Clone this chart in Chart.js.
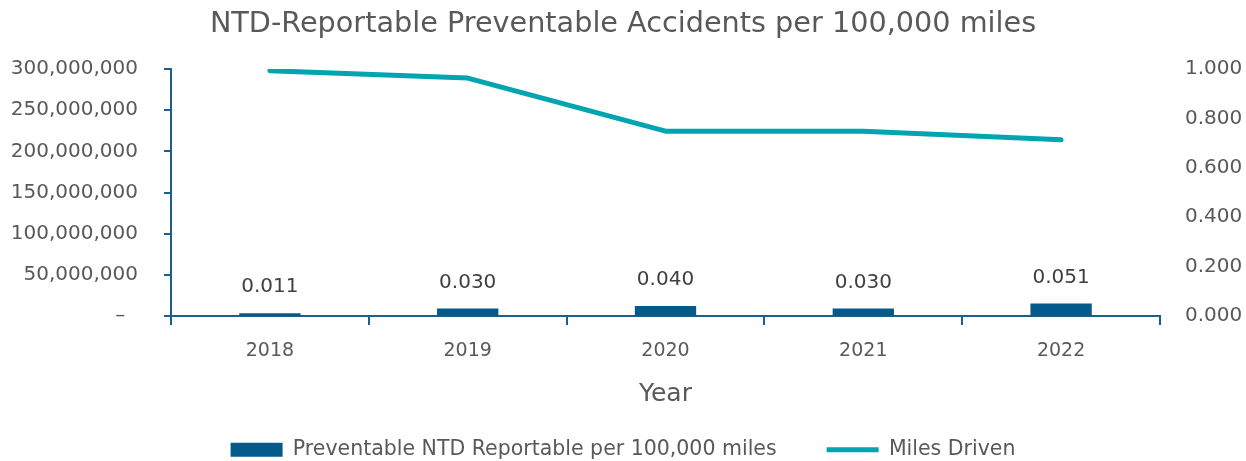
<!DOCTYPE html>
<html>
<head>
<meta charset="utf-8">
<script src="https://cdn.jsdelivr.net/npm/chart.js@4.4.0/dist/chart.umd.min.js"></script>
<style>
  html, body { margin: 0; padding: 0; background: #fff; }
  #wrap { width: 1246px; height: 461px; }
</style>
</head>
<body>
<div id="wrap"><canvas id="chart"></canvas></div>
<script>
// data
const years = ['2018', '2019', '2020', '2021', '2022'];
const preventableRate = [0.011, 0.030, 0.040, 0.030, 0.051];
const milesDriven = [298000000, 289000000, 224500000, 224500000, 214000000];

const axisBlue = '#1b5f8c';
const barBlue = '#045a8a';
const teal = '#00a5b1';
const textGray = '#595959';
const fontStack = '"DejaVu Sans", "Noto Sans", sans-serif';

Chart.defaults.font.family = fontStack;
Chart.defaults.color = textGray;

// value labels over the bars (no datalabels plugin offline)
const barValueLabels = {
  id: 'barValueLabels',
  afterDatasetsDraw(chart) {
    const ctx = chart.ctx;
    const meta = chart.getDatasetMeta(0);
    ctx.save();
    ctx.font = '20px ' + fontStack;
    ctx.fillStyle = '#404040';
    ctx.textAlign = 'center';
    ctx.textBaseline = 'middle';
    meta.data.forEach((bar, i) => {
      ctx.fillText(preventableRate[i].toFixed(3), bar.x, bar.y - 26);
    });
    ctx.restore();
  }
};

new Chart(document.getElementById('chart'), {
  data: {
    labels: years,
    datasets: [
      {
        type: 'bar',
        label: 'Preventable NTD Reportable per 100,000 miles',
        data: preventableRate,
        yAxisID: 'y1',
        backgroundColor: barBlue,
        borderWidth: 0,
        barPercentage: 0.62,
        categoryPercentage: 0.5,
        pointStyle: 'rect',
        order: 2,
      },
      {
        type: 'line',
        label: 'Miles Driven',
        data: milesDriven,
        yAxisID: 'y',
        borderColor: teal,
        backgroundColor: teal,
        borderWidth: 5,
        borderCapStyle: 'round',
        borderJoinStyle: 'round',
        pointRadius: 0,
        tension: 0,
        pointStyle: 'line',
        order: 1,
      },
    ],
  },
  options: {
    responsive: true,
    maintainAspectRatio: false,
    animation: false,
    layout: { padding: { left: 0, right: 0, top: 0, bottom: -9 } },
    scales: {
      x: {
        offset: true,
        grid: { drawOnChartArea: false, offset: true, tickLength: 9, color: axisBlue, lineWidth: 2 },
        border: { color: axisBlue, width: 2 },
        ticks: { color: textGray, font: { size: 19 }, padding: 15 },
        title: {
          display: true,
          text: 'Year',
          color: textGray,
          font: { size: 25 },
          padding: { top: 0, bottom: -19.5 },
        },
        afterFit: (s) => { s.height = 73.5; },
      },
      y: {
        position: 'left',
        min: 0,
        max: 300000000,
        grid: { drawOnChartArea: false, tickLength: 7, color: axisBlue, lineWidth: 2 },
        border: { color: axisBlue, width: 2 },
        ticks: {
          stepSize: 50000000,
          color: textGray,
          font: { size: 20 },
          padding: 26,
          // accounting-style dash for zero, set in from the right edge
          callback: (v) => v === 0 ? '–  ' : v.toLocaleString('en-US'),
        },
        afterFit: (s) => { s.width = 171; },
      },
      y1: {
        position: 'right',
        min: 0,
        max: 1,
        grid: { display: false, drawTicks: false },
        border: { display: false },
        ticks: {
          stepSize: 0.2,
          color: textGray,
          font: { size: 20 },
          padding: 25,
          callback: (v) => v.toFixed(3),
        },
        afterFit: (s) => { s.width = 86; },
      },
    },
    plugins: {
      title: {
        display: true,
        text: 'NTD-Reportable Preventable Accidents per 100,000 miles',
        color: textGray,
        font: { size: 28.7, weight: 'normal' },
        padding: { top: 7, bottom: 27.6 },
      },
      legend: {
        position: 'bottom',
        labels: {
          usePointStyle: true,
          pointStyleWidth: 52,
          boxHeight: 14,
          padding: 50,
          color: textGray,
          font: { size: 20.5 },
          sort: (a, b) => a.datasetIndex - b.datasetIndex,
        },
      },
      tooltip: { enabled: false },
    },
  },
  plugins: [barValueLabels],
});
</script>
</body>
</html>
